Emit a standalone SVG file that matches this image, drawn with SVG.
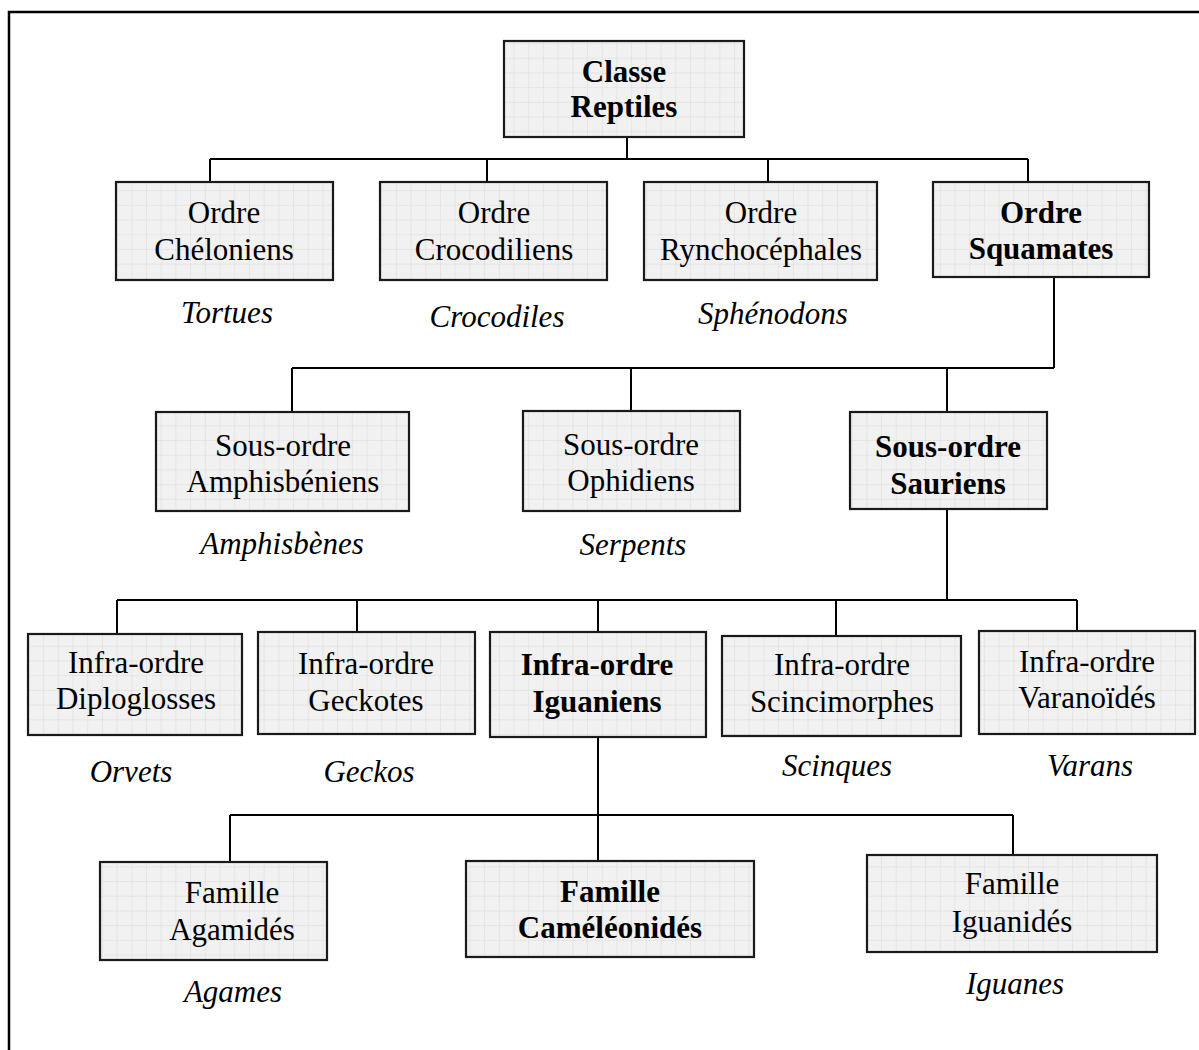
<svg xmlns="http://www.w3.org/2000/svg" width="1199" height="1050" viewBox="0 0 1199 1050">
<defs>
<pattern id="grid" width="14.7" height="14.7" patternUnits="userSpaceOnUse">
<rect width="14.7" height="14.7" fill="#f1f1f1"/>
<path d="M14.7 0V14.7H0" fill="none" stroke="#dadada" stroke-width="1"/>
</pattern>
</defs>
<style>
.box{fill:url(#grid);stroke:#1a1a1a;stroke-width:2.2}
.t{font-family:"Liberation Serif","Times New Roman",serif;font-size:31px;fill:#000;text-anchor:middle}
.b{font-weight:bold}
.i{font-style:italic}
.c{fill:none;stroke:#000;stroke-width:2}
</style>
<rect width="1199" height="1050" fill="#fff"/>
<path d="M9,1050 V12 H1199" fill="none" stroke="#000" stroke-width="2.5"/>
<g id="connectors" class="c">
<path d="M627,137 V159 M210,159 H1028 M210,159 V182 M487,159 V182 M768,159 V182 M1028,159 V182"/>
<path d="M1054,277 V368 M292,368 H1054 M292,368 V412 M631,368 V411 M947,368 V412"/>
<path d="M947,509 V600 M117,600 H1077 M117,600 V634 M357,600 V632 M598,600 V632 M836,600 V636 M1077,600 V631"/>
<path d="M598,737 V861 M230,815 H1013 M230,815 V862 M1013,815 V855"/>
</g>
<g id="classe"><rect class="box" x="504" y="41" width="240" height="96"/><text class="t b" x="624" y="82">Classe</text><text class="t b" x="624" y="117">Reptiles</text></g>
<g id="cheloniens"><rect class="box" x="116" y="182" width="217" height="98"/><text class="t" x="224" y="223">Ordre</text><text class="t" x="224" y="260">Chéloniens</text><text class="t i" x="227" y="323">Tortues</text></g>
<g id="crocodiliens"><rect class="box" x="380" y="182" width="227" height="98"/><text class="t" x="494" y="223">Ordre</text><text class="t" x="494" y="260">Crocodiliens</text><text class="t i" x="497" y="327">Crocodiles</text></g>
<g id="rynchocephales"><rect class="box" x="644" y="182" width="233" height="98"/><text class="t" x="761" y="223">Ordre</text><text class="t" x="761" y="260">Rynchocéphales</text><text class="t i" x="773" y="324">Sphénodons</text></g>
<g id="squamates"><rect class="box" x="933" y="182" width="216" height="95"/><text class="t b" x="1041" y="223">Ordre</text><text class="t b" x="1041" y="259">Squamates</text></g>
<g id="amphisbeniens"><rect class="box" x="156" y="412" width="253" height="99"/><text class="t" x="283" y="456">Sous-ordre</text><text class="t" x="283" y="492">Amphisbéniens</text><text class="t i" x="282" y="554">Amphisbènes</text></g>
<g id="ophidiens"><rect class="box" x="523" y="411" width="217" height="100"/><text class="t" x="631" y="455">Sous-ordre</text><text class="t" x="631" y="491">Ophidiens</text><text class="t i" x="633" y="555">Serpents</text></g>
<g id="sauriens"><rect class="box" x="850" y="412" width="197" height="97"/><text class="t b" x="948" y="457">Sous-ordre</text><text class="t b" x="948" y="494">Sauriens</text></g>
<g id="diploglosses"><rect class="box" x="28" y="634" width="214" height="101"/><text class="t" x="136" y="673">Infra-ordre</text><text class="t" x="136" y="709">Diploglosses</text><text class="t i" x="131" y="782">Orvets</text></g>
<g id="geckotes"><rect class="box" x="258" y="632" width="217" height="102"/><text class="t" x="366" y="674">Infra-ordre</text><text class="t" x="366" y="711">Geckotes</text><text class="t i" x="369" y="782">Geckos</text></g>
<g id="iguaniens"><rect class="box" x="490" y="632" width="216" height="105"/><text class="t b" x="597" y="675">Infra-ordre</text><text class="t b" x="597" y="712">Iguaniens</text></g>
<g id="scincimorphes"><rect class="box" x="722" y="636" width="239" height="100"/><text class="t" x="842" y="675">Infra-ordre</text><text class="t" x="842" y="712">Scincimorphes</text><text class="t i" x="837" y="776">Scinques</text></g>
<g id="varanoides"><rect class="box" x="979" y="631" width="216" height="103"/><text class="t" x="1087" y="672">Infra-ordre</text><text class="t" x="1087" y="708">Varanoïdés</text><text class="t i" x="1090" y="776">Varans</text></g>
<g id="agamides"><rect class="box" x="100" y="862" width="227" height="98"/><text class="t" x="232" y="903">Famille</text><text class="t" x="232" y="940">Agamidés</text><text class="t i" x="233" y="1002">Agames</text></g>
<g id="cameleonides"><rect class="box" x="466" y="861" width="288" height="96"/><text class="t b" x="610" y="902">Famille</text><text class="t b" x="610" y="938">Caméléonidés</text></g>
<g id="iguanides"><rect class="box" x="867" y="855" width="290" height="97"/><text class="t" x="1012" y="894">Famille</text><text class="t" x="1012" y="932">Iguanidés</text><text class="t i" x="1015" y="994">Iguanes</text></g>
</svg>
